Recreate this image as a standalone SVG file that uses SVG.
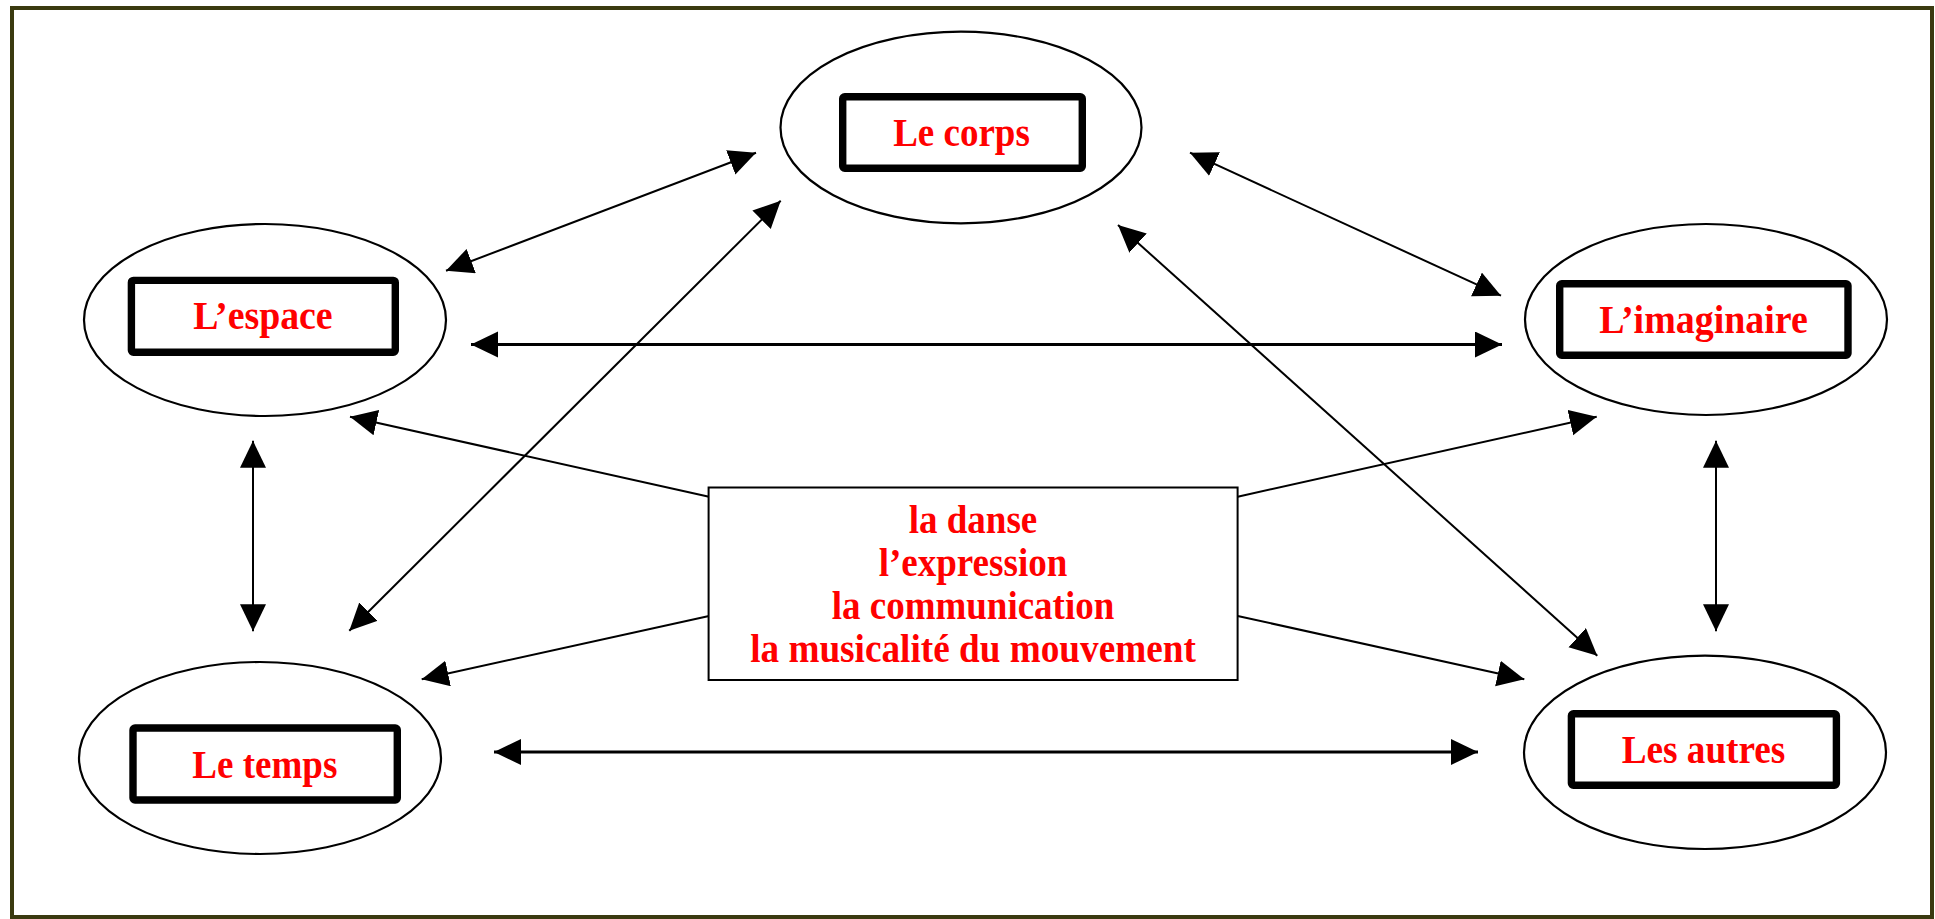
<svg xmlns="http://www.w3.org/2000/svg" width="1935" height="919" viewBox="0 0 1935 919">
<style>
.ell{fill:none;stroke:#000;stroke-width:2.2}
.box{fill:#fff;stroke:#000;stroke-width:7.4;stroke-linejoin:round}
.lbl{font-family:"Liberation Serif","Times New Roman",serif;font-weight:bold;font-size:40px;fill:#ff0000;text-anchor:middle}
.con{stroke:#000;stroke-width:2;fill:none;marker-start:url(#ah);marker-end:url(#ah)}
.one{stroke:#000;stroke-width:2;fill:none;marker-end:url(#ah)}
.thick{stroke-width:3}
</style>
<defs>
<marker id="ah" markerUnits="userSpaceOnUse" markerWidth="28" markerHeight="28" viewBox="0 0 28 28" refX="27" refY="13" orient="auto-start-reverse">
<path d="M0,0 L27,13 L0,26 z" fill="#000"/>
</marker>
</defs>
<rect x="0" y="0" width="1935" height="919" fill="#fff"/>
<rect x="12" y="8" width="1920" height="909" fill="none" stroke="#3a3a10" stroke-width="4"/>
<g id="connectors">
<line class="con" x1="446" y1="270.7" x2="756" y2="152.7"/>
<line class="con" x1="349.3" y1="630.7" x2="780.7" y2="200.7"/>
<line class="con" x1="1190" y1="152.7" x2="1501" y2="295.7"/>
<line class="con" x1="1118" y1="225" x2="1597.3" y2="655.7"/>
<line class="con thick" x1="471" y1="344.5" x2="1502" y2="344.5"/>
<line class="con thick" x1="494" y1="752" x2="1478" y2="752"/>
<line class="con" x1="253" y1="440.8" x2="253" y2="631.3"/>
<line class="con" x1="1716" y1="440.8" x2="1716" y2="631.3"/>
<line class="one" x1="709" y1="496.7" x2="350" y2="416.7"/>
<line class="one" x1="1237.7" y1="496.7" x2="1596.7" y2="416.7"/>
<line class="one" x1="709" y1="616" x2="421.7" y2="679.3"/>
<line class="one" x1="1237.7" y1="616" x2="1524.3" y2="679.3"/>
</g>
<g id="corps">
<ellipse class="ell" cx="961" cy="127.5" rx="180.5" ry="95.8"/>
<rect class="box" x="842.7" y="96.7" width="239.6" height="71.6" rx="2"/>
<text class="lbl" x="961.5" y="146" textLength="136.7" lengthAdjust="spacingAndGlyphs">Le corps</text>
</g>
<g id="espace">
<ellipse class="ell" cx="265" cy="320" rx="181" ry="96"/>
<rect class="box" x="131.4" y="280.4" width="263.9" height="71.9" rx="2"/>
<text class="lbl" x="263" y="329" textLength="139.3" lengthAdjust="spacingAndGlyphs">L’espace</text>
</g>
<g id="imaginaire">
<ellipse class="ell" cx="1706" cy="319.5" rx="181" ry="95.5"/>
<rect class="box" x="1559.7" y="283.7" width="288.3" height="71.6" rx="2"/>
<text class="lbl" x="1703.5" y="332.7" textLength="208.7" lengthAdjust="spacingAndGlyphs">L’imaginaire</text>
</g>
<g id="temps">
<ellipse class="ell" cx="260" cy="758" rx="181" ry="96"/>
<rect class="box" x="133" y="728" width="264.3" height="72" rx="2"/>
<text class="lbl" x="264.8" y="778" textLength="145" lengthAdjust="spacingAndGlyphs">Le temps</text>
</g>
<g id="autres">
<ellipse class="ell" cx="1705" cy="752.3" rx="181" ry="96.7"/>
<rect class="box" x="1571.4" y="713.7" width="265" height="71.6" rx="2"/>
<text class="lbl" x="1703.5" y="762.7" textLength="163.7" lengthAdjust="spacingAndGlyphs">Les autres</text>
</g>
<g id="centre">
<rect x="708.6" y="487.5" width="529" height="192.5" fill="#fff" stroke="#000" stroke-width="2"/>
<text class="lbl" x="973" y="533.3" textLength="128.6" lengthAdjust="spacingAndGlyphs">la danse</text>
<text class="lbl" x="973" y="576" textLength="188.6" lengthAdjust="spacingAndGlyphs">l’expression</text>
<text class="lbl" x="973" y="619" textLength="282.5" lengthAdjust="spacingAndGlyphs">la communication</text>
<text class="lbl" x="973" y="661.7" textLength="445.7" lengthAdjust="spacingAndGlyphs">la musicalité du mouvement</text>
</g>
</svg>
